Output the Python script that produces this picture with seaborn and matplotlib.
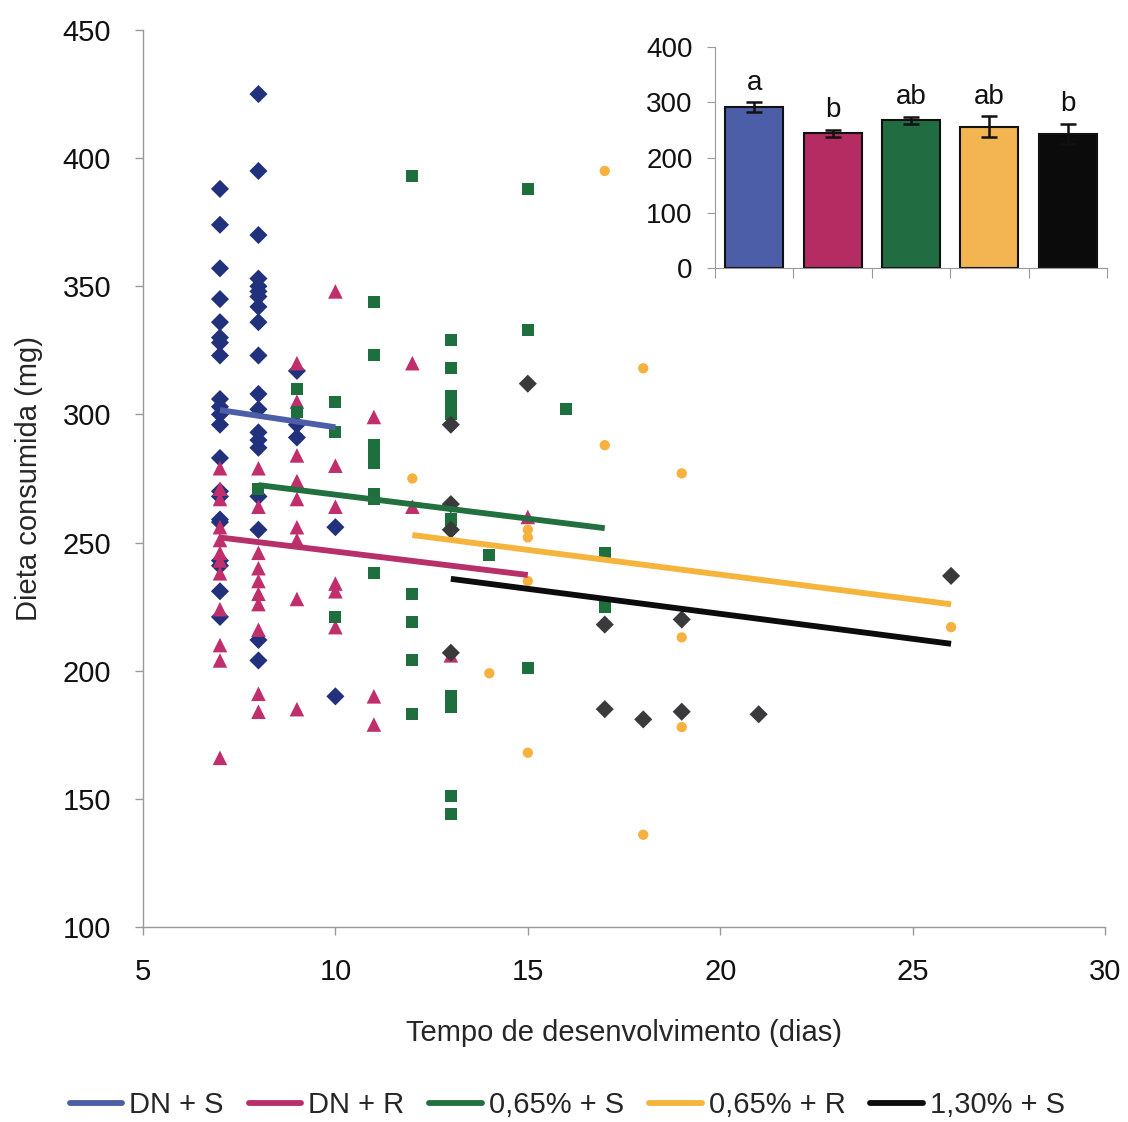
import numpy as np
import pandas as pd
import matplotlib
matplotlib.use("Agg")
import matplotlib.pyplot as plt
import seaborn as sns
from matplotlib.lines import Line2D

sns.set_style("ticks")
plt.rcParams['font.family'] = ['Liberation Sans', 'DejaVu Sans']

# ---------------- data ----------------
series_names = ["DN + S", "DN + R", "0,65% + S", "0,65% + R", "1,30% + S"]

dns_x = [7]*21 + [8]*19 + [9]*3 + [10]*2
dns_y = [388, 374, 357, 345, 336, 330, 328, 323, 306, 303, 300, 296, 283, 270, 268, 259, 258, 243, 241, 231, 221,
         425, 395, 370, 353, 350, 348, 346, 342, 336, 323, 308, 302, 293, 290, 287, 268, 255, 212, 204,
         317, 296, 291,
         256, 190]

dnr_x = [7]*12 + [8]*10 + [9]*9 + [10]*6 + [11]*3 + [12]*2 + [13] + [15]
dnr_y = [279, 271, 267, 256, 251, 246, 243, 238, 224, 210, 204, 166,
         279, 264, 246, 240, 235, 230, 226, 216, 191, 184,
         320, 305, 284, 274, 267, 256, 251, 228, 185,
         348, 280, 264, 234, 231, 217,
         299, 190, 179,
         320, 264,
         206,
         260]

p65s_x = [8] + [9]*2 + [10]*3 + [11]*8 + [12]*5 + [13]*10 + [14] + [15]*3 + [16] + [17]*2
p65s_y = [271,
          310, 301,
          305, 293, 221,
          344, 323, 288, 285, 281, 269, 267, 238,
          393, 230, 219, 204, 183,
          329, 318, 307, 303, 300, 259, 190, 186, 151, 144,
          245,
          388, 333, 201,
          302,
          246, 225]

p65r_x = [12, 14, 15, 15, 15, 15, 17, 17, 18, 18, 19, 19, 19, 26]
p65r_y = [275, 199, 255, 252, 235, 168, 395, 288, 318, 136, 277, 213, 178, 217]

p130s_x = [13, 13, 13, 13, 15, 17, 17, 18, 19, 19, 21, 26]
p130s_y = [296, 265, 255, 207, 312, 218, 185, 181, 220, 184, 183, 237]

# linear trend lines (intercept, slope)
trend_intercept = [317.3, 264.8, 287.4, 276.1, 261.2]
trend_slope = [-2.23, -1.83, -1.87, -1.93, -1.95]

# inset bar chart
bar_means = [291, 244, 267, 256, 243]
bar_errs = [9, 6.5, 7, 18.5, 18]
bar_letters = ["a", "b", "ab", "ab", "b"]

# ---------------- styles ----------------
marker_colors = ["#22317c", "#c02f6c", "#1f6e3e", "#f6b13f", "#3a3a3c"]
line_colors = ["#4c5ea6", "#b8306a", "#227040", "#f5b43c", "#0c0c0e"]
bar_colors = ["#4b5ea7", "#b52c63", "#216c40", "#f2b552", "#0b0b0b"]
markers = ["D", "^", "s", "o", "D"]
msizes = [85, 110, 75, 55, 85]

xs_all = [dns_x, dnr_x, p65s_x, p65r_x, p130s_x]
ys_all = [dns_y, dnr_y, p65s_y, p65r_y, p130s_y]

fig = plt.figure(figsize=(11.28, 11.22), dpi=100)
ax = fig.add_axes([143/1128, 1-927/1122, (1105-143)/1128, (927-30)/1122])

for i in range(5):
    df = pd.DataFrame({"x": xs_all[i], "y": ys_all[i]})
    sns.scatterplot(data=df, x="x", y="y", marker=markers[i], s=msizes[i],
                    color=marker_colors[i], edgecolor="none", linewidth=0, ax=ax, zorder=2)

for i in range(5):
    xr = np.array([min(xs_all[i]), max(xs_all[i])], dtype=float)
    df = pd.DataFrame({"x": xr, "y": trend_intercept[i] + trend_slope[i]*xr})
    sns.lineplot(data=df, x="x", y="y", color=line_colors[i], lw=4.2, ax=ax, zorder=3,
                 solid_capstyle="butt")

ax.set_xlim(5, 30)
ax.set_ylim(100, 450)
ax.set_xticks([5, 10, 15, 20, 25, 30])
ax.set_yticks([100, 150, 200, 250, 300, 350, 400, 450])
ax.tick_params(axis="both", labelsize=21, colors="#999999", labelcolor="#111111", length=6, width=1)
ax.tick_params(axis="x", pad=16)
ax.tick_params(axis="y", pad=17)
for sp in ["top", "right"]:
    ax.spines[sp].set_visible(False)
for sp in ["left", "bottom"]:
    ax.spines[sp].set_color("#999999")
    ax.spines[sp].set_linewidth(1)
ax.set_xlabel("Tempo de desenvolvimento (dias)", fontsize=21, labelpad=24)
ax.set_ylabel("Dieta consumida (mg)", fontsize=21, labelpad=14)

# inset
iax = fig.add_axes([715/1128, 1-268/1122, (1107-715)/1128, (268-47)/1122])
bdf = pd.DataFrame({"grp": series_names, "mean": bar_means})
sns.barplot(data=bdf, x="grp", y="mean", hue="grp", palette=bar_colors, legend=False,
            width=0.74, saturation=1, edgecolor="#111111", linewidth=1.5, errorbar=None, ax=iax)
iax.errorbar(np.arange(5), bar_means, yerr=bar_errs, fmt="none", ecolor="#111111",
             elinewidth=1.8, capsize=6, capthick=1.8, zorder=5)
for i in range(5):
    iax.text(i, bar_means[i] + bar_errs[i] + 12, bar_letters[i], ha="center", va="bottom",
             fontsize=20, color="#111111")
iax.set_xlim(-0.5, 4.5)
iax.set_ylim(0, 400)
iax.set_yticks([0, 100, 200, 300, 400])
iax.set_xticks(np.arange(-0.5, 5, 1))
iax.set_xticklabels([])
iax.set_xlabel("")
iax.set_ylabel("")
iax.tick_params(axis="y", labelsize=20, colors="#999999", labelcolor="#111111", length=6, pad=10)
iax.tick_params(axis="x", colors="#999999", length=7)
iax.patch.set_alpha(0)
for sp in ["top", "right"]:
    iax.spines[sp].set_visible(False)
for sp in ["left", "bottom"]:
    iax.spines[sp].set_color("#999999")

# legend
handles = [Line2D([0], [0], color=line_colors[i], lw=4.2) for i in range(5)]
fig.legend(handles, series_names, loc="center", bbox_to_anchor=(0.503, 1-1105/1122), ncol=5,
           frameon=False, handlelength=1.8, handletextpad=0.25, columnspacing=0.85,
           prop={"size": 21})

fig.savefig("out.png", dpi=100)
